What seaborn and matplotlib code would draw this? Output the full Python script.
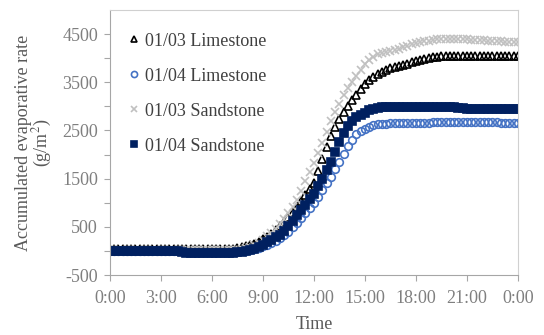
import numpy as np
import pandas as pd
import seaborn as sns
import matplotlib.pyplot as plt
from matplotlib.ticker import FixedLocator

# time in hours, one reading every 15 min
hours = np.arange(0, 24.01, 0.25)

# 01/03 Limestone (one row per hour: :00 :15 :30 :45)
lime_0103 = [
    50, 50, 50, 50,
    50, 50, 50, 50,
    50, 50, 50, 50,
    50, 50, 50, 50,
    50, 50, 50, 50,
    45, 45, 45, 45,
    45, 45, 45, 45,
    45, 50, 60, 75,
    95, 120, 150, 190,
    240, 295, 360, 430,
    510, 600, 700, 810,
    920, 1040, 1160, 1290,
    1420, 1660, 1900, 2150,
    2380, 2580, 2740, 2880,
    3010, 3130, 3240, 3360,
    3470, 3550, 3620, 3680,
    3720, 3760, 3790, 3810,
    3830, 3860, 3890, 3920,
    3950, 3970, 3990, 4005,
    4020, 4030, 4040, 4045,
    4050, 4050, 4050, 4050,
    4050, 4050, 4050, 4050,
    4050, 4050, 4050, 4050,
    4050, 4050, 4050, 4050,
    4050,
]

# 01/04 Limestone
lime_0104 = [
    0, 0, 0, 0,
    0, 0, 0, 0,
    -5, -5, -5, -5,
    -5, -5, -5, -5,
    -5, -10, -15, -15,
    -15, -15, -15, -15,
    -15, -15, -15, -15,
    -15, -15, -15, -10,
    0, 15, 35, 60,
    95, 130, 170, 215,
    270, 330, 400, 490,
    590, 680, 780, 890,
    990, 1120, 1260, 1400,
    1540, 1700, 1850, 2010,
    2170, 2310, 2420, 2490,
    2540, 2580, 2610, 2625,
    2635, 2645, 2650, 2655,
    2660, 2660, 2660, 2660,
    2660, 2665, 2665, 2665,
    2670, 2670, 2670, 2670,
    2670, 2670, 2670, 2670,
    2670, 2670, 2670, 2670,
    2670, 2670, 2670, 2670,
    2665, 2665, 2665, 2665,
    2665,
]

# 01/03 Sandstone
sand_0103 = [
    20, 20, 20, 20,
    20, 20, 20, 20,
    20, 20, 20, 20,
    20, 20, 20, 20,
    20, 15, 10, 10,
    10, 10, 10, 10,
    10, 10, 10, 10,
    10, 15, 25, 40,
    60, 90, 125, 170,
    230, 300, 370, 455,
    550, 660, 780, 910,
    1060, 1250, 1450, 1640,
    1830, 2040, 2250, 2470,
    2700, 2880, 3060, 3230,
    3380, 3510, 3630, 3750,
    3880, 3960, 4030, 4080,
    4110, 4135, 4160, 4180,
    4200, 4230, 4260, 4285,
    4310, 4330, 4350, 4365,
    4380, 4390, 4395, 4400,
    4400, 4400, 4400, 4395,
    4390, 4385, 4380, 4375,
    4370, 4365, 4360, 4355,
    4350, 4345, 4340, 4335,
    4330,
]

# 01/04 Sandstone
sand_0104 = [
    0, 0, -5, -5,
    -5, -5, -5, -5,
    -5, -5, -10, -10,
    -10, -10, -10, -10,
    -10, -15, -35, -35,
    -35, -35, -35, -35,
    -35, -35, -35, -35,
    -35, -35, -30, -20,
    -5, 15, 45, 85,
    130, 180, 235, 285,
    340, 420, 510, 630,
    750, 850, 960, 1080,
    1190, 1340, 1500, 1670,
    1850, 2050, 2260, 2440,
    2590, 2700, 2780, 2830,
    2870, 2920, 2955, 2975,
    2985, 2990, 2990, 2990,
    2995, 2995, 2995, 2995,
    2995, 2995, 2995, 2995,
    2995, 2995, 2995, 2990,
    2990, 2985, 2970, 2960,
    2955, 2955, 2955, 2955,
    2950, 2950, 2950, 2950,
    2950, 2945, 2945, 2945,
    2940,
]

tick_hours = [0, 3, 6, 9, 12, 15, 18, 21, 24]
tick_labels = ["0:00", "3:00", "6:00", "9:00", "12:00", "15:00", "18:00", "21:00", "0:00"]

series = [
    ("01/03 Limestone", lime_0103, "^", "#000000", "none", 6),
    ("01/04 Limestone", lime_0104, "o", "#4472C4", "none", 5.5),
    ("01/03 Sandstone", sand_0103, "x", "#C0C0C0", "#C0C0C0", 6),
    ("01/04 Sandstone", sand_0104, "s", "#002060", "#002060", 5.5),
]


def main():
    sns.set_style("white")
    plt.rcParams["font.family"] = ["Liberation Serif", "DejaVu Serif"]
    plt.rcParams["mathtext.fontset"] = "stix"
    plt.rcParams["axes.unicode_minus"] = False

    fig = plt.figure(figsize=(5.44, 3.35), dpi=100)
    ax = fig.add_axes([0.202, 0.179, 0.750, 0.791])

    for name, vals, mk, col, fc, ms in series:
        df = pd.DataFrame({"hour": hours, "rate": vals})
        sns.lineplot(
            data=df, x="hour", y="rate", ax=ax, estimator=None, sort=False,
            linestyle="", marker=mk, markersize=ms, markerfacecolor=fc,
            markeredgecolor=col, markeredgewidth=1.2, color=col, label=name,
        )

    ax.set_xlim(0, 24)
    ax.set_ylim(-500, 5000)
    ax.set_xticks(tick_hours)
    ax.set_xticklabels(tick_labels)
    ax.set_yticks(range(-500, 5000, 1000))
    ax.yaxis.set_minor_locator(FixedLocator(range(0, 5000, 1000)))

    for side in ["left", "bottom"]:
        ax.spines[side].set_color("#A6A6A6")
    for side in ["top", "right"]:
        ax.spines[side].set_color("#D0D0D0")

    ax.tick_params(axis="both", which="both", direction="out", color="#A6A6A6",
                   length=4.5, width=0.8, labelsize=13, labelcolor="#7F7F7F")
    ax.tick_params(axis="y", which="both", left=True, pad=4)
    ax.tick_params(axis="x", bottom=True, pad=6)

    ax.set_xlabel("Time", fontsize=13, color="#595959", labelpad=7)
    ax.set_ylabel("Accumulated evaporative rate\n(g/m$^2$)", fontsize=13,
                  color="#595959", labelpad=6, linespacing=0.95)

    leg = ax.legend(loc="upper left", bbox_to_anchor=(0.044, 0.915), frameon=False,
                    fontsize=13, handlelength=0.7, handletextpad=0.25,
                    labelspacing=1.0, borderpad=0, borderaxespad=0,
                    markerscale=0.8)
    for t in leg.get_texts():
        t.set_color("#404040")

    plt.savefig("out.png", dpi=100)
    plt.clf()


if __name__ == "__main__":
    main()
